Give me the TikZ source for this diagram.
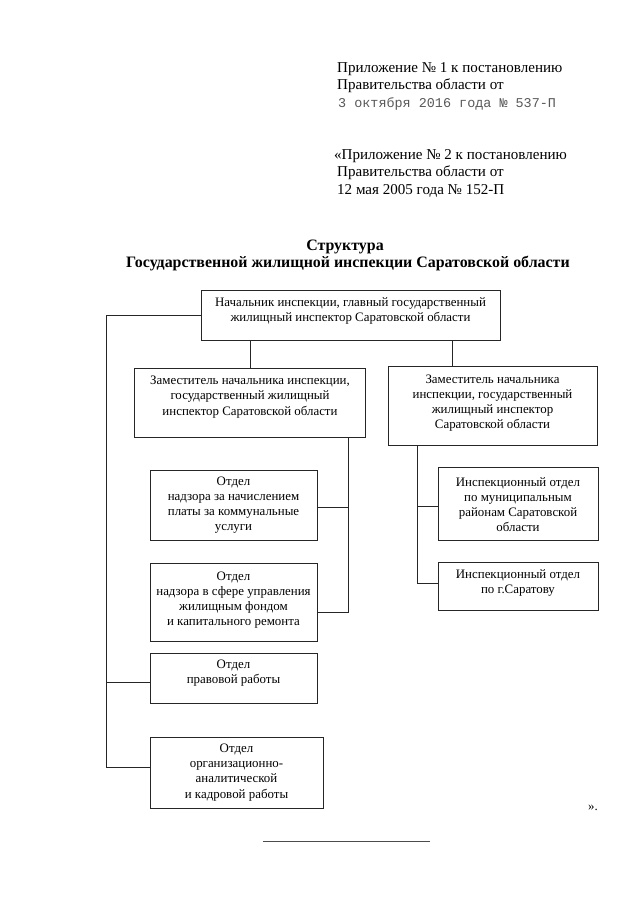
\documentclass[tikz,border=0pt]{standalone}
\usepackage{fontspec}
\setmainfont{Liberation Serif}
\setmonofont{Liberation Mono}
\begin{document}
\begin{tikzpicture}[x=0.93pt,y=-0.93pt,
  box/.style 2 args={draw=black!85, line width=0.7pt, inner sep=0pt, minimum width=#1*0.93pt, minimum height=#2*0.93pt},
  lbl/.style={align=center, inner sep=0pt, font=\fontsize{12}{14.1}\selectfont},
  hdr/.style={anchor=base west, inner sep=0pt, font=\fontsize{14}{16}\selectfont},
  ttl/.style={anchor=base, inner sep=0pt, font=\fontsize{14.8}{17}\bfseries},
  conn/.style={draw=black!85, line width=0.7pt}]
\useasboundingbox (0,0) rectangle (640,905);
\fill[white] (0,0) rectangle (640,905);
% header
\node[hdr] (h1) at (337,72) {Приложение № 1 к постановлению};
\node[hdr] (h2) at (337,89.5) {Правительства области от};
\node[hdr, text=black!65, font=\fontsize{12.5}{16}\ttfamily] (h3) at (338,107) {3 октября 2016 года № 537-П};
\node[hdr] (h4) at (334,159) {«Приложение № 2 к постановлению};
\node[hdr] (h5) at (337,176.5) {Правительства области от};
\node[hdr] (h6) at (337,194) {12 мая 2005 года № 152-П};
% title
\node[ttl] (t1) at (345,250) {Структура};
\node[ttl] (t2) at (348,267) {Государственной жилищной инспекции Саратовской области};
% boxes
\node[box={299}{50}] (n0) at (350.5,315) {};
\node[lbl] (n0t) at (350.5,311) {Начальник инспекции, главный государственный\\жилищный инспектор Саратовской области};
\node[box={231}{69}] (d1) at (249.5,402.5) {};
\node[lbl] (d1t) at (250,397) {Заместитель начальника инспекции,\\государственный жилищный\\инспектор Саратовской области};
\node[box={209}{79}] (d2) at (492.5,405.5) {};
\node[lbl] (d2t) at (492.5,403) {Заместитель начальника\\инспекции, государственный\\жилищный инспектор\\Саратовской области};
\node[box={167}{70}] (a1) at (233.5,505) {};
\node[lbl] (a1t) at (233.5,505) {Отдел\\надзора за начислением\\платы за коммунальные\\услуги};
\node[box={167}{78}] (a2) at (233.5,602) {};
\node[lbl] (a2t) at (233.5,600) {Отдел\\надзора в сфере управления\\жилищным фондом\\и капитального ремонта};
\node[box={160}{73}] (b1) at (518,504) {};
\node[lbl] (b1t) at (518,504.5) {Инспекционный отдел\\по муниципальным\\районам Саратовской\\области};
\node[box={160}{48}] (b2) at (518,586) {};
\node[lbl] (b2t) at (518,583) {Инспекционный отдел\\по г.Саратову};
\node[box={167}{50}] (o1) at (233.5,678) {};
\node[lbl] (o1t) at (233.5,673) {Отдел\\правовой работы};
\node[box={173}{71}] (o2) at (236.5,772.5) {};
\node[lbl] (o2t) at (236.5,772.5) {Отдел\\организационно-\\аналитической\\и кадровой работы};
% bus coordinates
\coordinate (c1) at (250,0);
\coordinate (c2) at (452,0);
\coordinate (c3) at (348,0);
\coordinate (c4) at (417,0);
\coordinate (c5) at (106,0);
\coordinate (a1e) at (317,507);
\coordinate (a2e) at (317,612);
\coordinate (b1w) at (438,506);
\coordinate (b2w) at (438,583);
\coordinate (o1w) at (150,682);
\coordinate (o2w) at (150,767);
% connectors
\draw[conn] (n0.south -| c1) -- (d1.north -| c1);
\draw[conn] (n0.south -| c2) -- (d2.north -| c2);
\draw[conn] (d1.south -| c3) |- (a2e);
\draw[conn] (a1e) -- (a1e -| c3);
\draw[conn] (d2.south -| c4) |- (b2w);
\draw[conn] (b1w) -- (b1w -| c4);
\draw[conn] (n0.west) -- (n0.west -| c5) |- (o2w);
\draw[conn] (o1w) -- (o1w -| c5);
% closing
\node[anchor=base west, inner sep=0pt, font=\fontsize{12}{14}\selectfont] (q) at (588,810) {».};
\coordinate (r1) at (263,841);
\coordinate (r2) at (430,841);
\draw[draw=black!70, line width=0.6pt] (r1) -- (r2);
\end{tikzpicture}
\end{document}
